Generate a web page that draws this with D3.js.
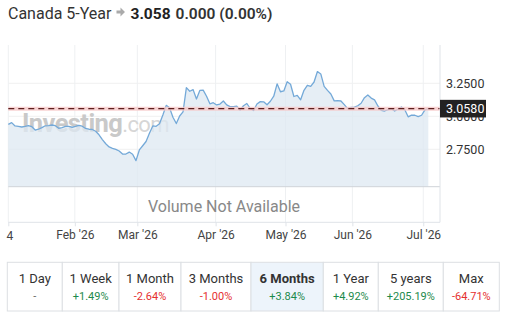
<!DOCTYPE html>
<html><head><meta charset="utf-8">
<script src="https://cdn.jsdelivr.net/npm/d3@7/dist/d3.min.js"></script>
<style>
body{margin:0;background:#fff;font-family:Roboto,"Open Sans",sans-serif;}
svg{display:block}
</style></head>
<body>
<svg id="c" width="510" height="317"></svg>
<script>
// ---- data ----
const title = "Canada 5-Year";
const lastPrice = 3.058;
const change = "0.000";
const changePct = "(0.00%)";
const values = [2.939,2.952,2.927,2.923,2.919,2.923,2.929,2.921,2.896,2.902,
2.914,2.928,2.930,2.934,2.929,2.909,2.914,2.924,2.923,2.917,
2.923,2.931,2.925,2.908,2.902,2.900,2.887,2.860,2.824,2.792,
2.768,2.757,2.749,2.737,2.714,2.714,2.729,2.712,2.664,2.745,
2.777,2.809,2.871,2.927,2.924,2.943,3.010,3.083,3.064,2.993,
2.945,3.002,3.033,3.217,3.190,3.202,3.131,3.196,3.198,3.152,
3.095,3.103,3.086,3.093,3.116,3.086,3.073,3.073,3.077,3.048,
3.080,3.097,3.059,3.044,3.093,3.111,3.110,3.087,3.114,3.152,
3.246,3.186,3.192,3.262,3.243,3.150,3.159,3.125,3.197,3.235,
3.227,3.260,3.339,3.321,3.227,3.196,3.169,3.117,3.119,3.116,
3.088,3.058,3.067,3.070,3.080,3.099,3.141,3.161,3.138,3.124,
3.078,3.045,3.040,3.050,3.058,3.040,3.055,3.071,3.050,2.996,
3.009,3.008,2.997,3.008,3.048,3.058];
const monthLabels = ["Feb '26","Mar '26","Apr '26","May '26","Jun '26","Jul '26"];
const monthIdx = [19.8,38.4,61.7,82.5,102.4,123.5];
const yTicks = [2.75,3.0,3.25];
const periods = ["1 Day","1 Week","1 Month","3 Months","6 Months","1 Year","5 years","Max"];
const periodChanges = ["-","+1.49%","-2.64%","-1.00%","+3.84%","+4.92%","+205.19%","-64.71%"];
const selectedPeriod = "6 Months";

// ---- layout ----
const svg = d3.select("#c");
const L = 8.3, R = 440, T = 45, plotBottom = 186.7, volBottom = 222.3;
const x = d3.scaleLinear().domain([0, values.length - 1]).range([L, 428.3]);
const y = d3.scaleLinear().domain([2.75, 3.25]).range([149.3, 83.3]);

// title
const t = svg.append("text").attr("x", 8).attr("y", 18.5).attr("font-size", 16).attr("fill", "#333");
t.append("tspan").text(title);
const titleW = t.node().getComputedTextLength();
// arrow icon
const ax = 8 + titleW + 5;
svg.append("path").attr("d", `M${ax},10.5h4v-3l4.5,4.5l-4.5,4.5v-3h-4z`).attr("fill", "#aaa");
const p = svg.append("text").attr("x", ax + 14).attr("y", 18.5).attr("font-size", 15.5).attr("fill", "#222");
p.append("tspan").attr("font-weight", 700).text(lastPrice.toFixed(3));
p.append("tspan").attr("dx", 5).attr("font-weight", 600).attr("fill", "#333").text(change + " " + changePct);

// gridlines
const g = svg.append("g");
g.selectAll("line.h").data(yTicks).join("line")
  .attr("x1", L).attr("x2", R).attr("y1", d => y(d)).attr("y2", d => y(d))
  .attr("stroke", "#f0f0f0").attr("stroke-width", 1);
g.selectAll("line.v").data([0, ...monthIdx]).join("line")
  .attr("x1", d => x(d)).attr("x2", d => x(d)).attr("y1", T).attr("y2", volBottom)
  .attr("stroke", "#eef0f2").attr("stroke-width", 1);

// watermark
const wm = svg.append("text").attr("x", 22).attr("y", 132).attr("font-size", 25.5)
  .attr("font-family", "Roboto, sans-serif").attr("letter-spacing", -0.6);
wm.append("tspan").attr("font-weight", 700).attr("fill", "#c9c9c9").text("Investing");
wm.append("tspan").attr("font-weight", 400).attr("fill", "#d6d6d6").attr("font-size", 22).text(".com");

// area + line
const area = d3.area().x((d, i) => x(i)).y0(plotBottom).y1(d => y(d));
svg.append("path").datum(values).attr("d", area).attr("fill", "#dde8f2").attr("fill-opacity", 0.75);
const line = d3.line().x((d, i) => x(i)).y(d => y(d));
svg.append("path").datum(values).attr("d", line).attr("fill", "none")
  .attr("stroke", "#74a9d8").attr("stroke-width", 1.3).attr("stroke-linejoin", "round");

// baseline of plot
svg.append("line").attr("x1", L).attr("x2", R).attr("y1", plotBottom).attr("y2", plotBottom)
  .attr("stroke", "#cfd3d8").attr("stroke-width", 1);

// current price line
svg.append("line").attr("x1", L).attr("x2", R).attr("y1", y(lastPrice)).attr("y2", y(lastPrice))
  .attr("stroke", "#f7c9c9").attr("stroke-width", 4).attr("opacity", 0.8);
svg.append("line").attr("x1", L).attr("x2", R).attr("y1", y(lastPrice)).attr("y2", y(lastPrice))
  .attr("stroke", "#5b1f1f").attr("stroke-width", 1.2).attr("stroke-dasharray", "6,4");

// right axis
svg.append("line").attr("x1", R).attr("x2", R).attr("y1", T).attr("y2", volBottom)
  .attr("stroke", "#dfe3e8");
const yAxis = d3.axisRight(y).tickValues(yTicks).tickFormat(d3.format(".4f")).tickSize(0).tickPadding(6);
const ya = svg.append("g").attr("transform", `translate(${R},0)`).call(yAxis);
ya.select(".domain").remove();
ya.selectAll("text").attr("font-size", 12.5).attr("fill", "#333").attr("font-family", "Roboto, sans-serif");

// price badge
svg.append("rect").attr("x", R).attr("y", y(lastPrice) - 8.8).attr("width", 46).attr("height", 17.6)
  .attr("fill", "#222");
svg.append("text").attr("x", R + 6).attr("y", y(lastPrice)).attr("dy", "0.35em").attr("font-size", 12.5)
  .attr("fill", "#fff").text(lastPrice.toFixed(4));

// volume note
svg.append("text").attr("x", 224).attr("y", 211.5).attr("text-anchor", "middle").attr("font-size", 16)
  .attr("fill", "#888").text("Volume Not Available");

// bottom axis
svg.append("line").attr("x1", L).attr("x2", R).attr("y1", volBottom).attr("y2", volBottom)
  .attr("stroke", "#dfe3e8");
const xAxis = d3.axisBottom(x).tickValues([0, ...monthIdx])
  .tickFormat((d, i) => i === 0 ? "" : monthLabels[i - 1]).tickSize(4).tickPadding(4);
const xa = svg.append("g").attr("transform", `translate(0,${volBottom})`).call(xAxis);
xa.select(".domain").remove();
xa.selectAll("line").attr("stroke", "#dfe3e8");
xa.selectAll("text").attr("font-size", 12).attr("fill", "#444").attr("font-family", "Roboto, sans-serif");
svg.append("text").attr("x", 6.5).attr("y", 239.5).attr("font-size", 12).attr("fill", "#444").text("4");

// period table
const edges = [7.3, 62.3, 119, 181, 251, 323.3, 378.3, 443.3, 499.3];
const tb = svg.append("g");
const cells = tb.selectAll("g").data(periods).join("g");
cells.append("rect")
  .attr("x", (d, i) => edges[i]).attr("y", 262.3)
  .attr("width", (d, i) => edges[i + 1] - edges[i]).attr("height", 48.7)
  .attr("fill", d => d === selectedPeriod ? "#edf4fb" : "#fff")
  .attr("stroke", "#dcdfe3").attr("stroke-width", 1);
cells.append("text")
  .attr("x", (d, i) => (edges[i] + edges[i + 1]) / 2).attr("y", 282.5)
  .attr("text-anchor", "middle").attr("font-size", 13)
  .attr("font-weight", d => d === selectedPeriod ? 700 : 400)
  .attr("fill", "#333").text(d => d);
cells.append("text")
  .attr("x", (d, i) => (edges[i] + edges[i + 1]) / 2).attr("y", 300)
  .attr("text-anchor", "middle").attr("font-size", 11)
  .attr("fill", (d, i) => periodChanges[i].startsWith("+") ? "#1c8a4c" : (periodChanges[i] === "-" ? "#666" : "#e53030"))
  .text((d, i) => periodChanges[i]);
</script>
</body></html>
